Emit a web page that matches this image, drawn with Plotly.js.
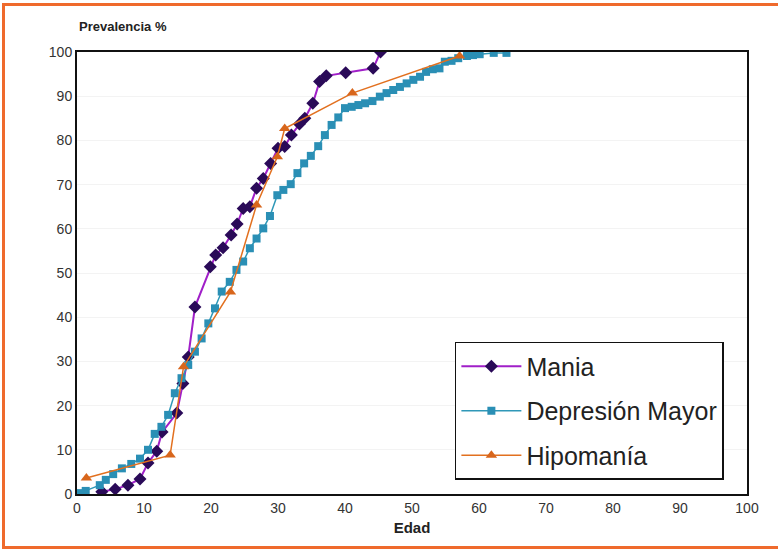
<!DOCTYPE html>
<html>
<head>
<meta charset="utf-8">
<script src="https://cdn.plot.ly/plotly-3.0.1.min.js"></script>
<style>
html,body{margin:0;padding:0;background:#fff;}
#chart{width:778px;height:551px;}
#frame{position:absolute;left:2px;top:3px;width:790px;height:540px;border-left:3px solid #ef6a2c;border-top:3px solid #ef6a2c;border-bottom:3px solid #ef6a2c;pointer-events:none;}
</style>
</head>
<body>
<div id="chart"></div>
<div id="frame"></div>
<script>
// Mania
var maniaAge = [3.7,5.7,7.6,9.4,10.6,11.9,12.7,14.9,15.8,16.6,17.6,19.9,20.7,21.8,23.0,23.9,24.8,25.8,26.8,27.8,28.9,30.0,31.0,32.0,33.2,34.0,35.2,36.2,37.2,40.1,44.2,45.3];
var maniaPct = [0.5,1.1,2.0,3.4,7.0,9.7,14.0,18.3,25.0,31.0,42.3,51.4,54.1,55.7,58.6,61.1,64.6,65.0,69.2,71.4,74.8,78.2,78.6,81.2,83.7,85.0,88.4,93.3,94.6,95.3,96.3,100];
// Depresión Mayor
var depAge = [0.4,1.3,3.4,4.3,5.4,6.7,8.1,9.4,10.6,11.6,12.6,13.6,14.6,15.6,16.6,17.6,18.6,19.6,20.6,21.6,22.8,23.8,24.8,25.8,26.8,27.8,28.8,29.9,30.8,31.9,32.9,33.9,34.9,36.0,37.0,38.0,39.0,40.0,41.0,42.0,43.0,44.1,45.2,46.2,47.2,48.2,49.2,50.2,51.2,52.1,53.1,54.1,54.9,55.9,56.9,58.2,59.1,60.1,62.2,64.1];
var depPct = [0.2,0.7,2.0,3.2,4.5,5.8,6.8,8.0,10.0,13.6,15.2,17.9,22.8,26.2,29.2,32.2,35.2,38.6,42.0,45.8,48.0,50.7,52.6,55.6,57.8,60.1,62.9,67.6,68.8,70.1,72.6,74.8,76.5,78.7,81.2,83.5,85.2,87.3,87.6,88.0,88.4,88.9,89.9,90.7,91.4,92.1,92.9,93.7,94.4,95.5,96.1,96.3,97.8,98.0,98.6,99.1,99.3,99.5,99.8,99.8];
// Hipomanía
var hipoAge = [1.4,13.9,15.9,22.9,26.8,29.9,31.0,41.1,57.1];
var hipoPct = [3.6,8.8,28.8,45.7,65.4,76.3,82.7,90.7,99.1];

var xTicks = [0,10,20,30,40,50,60,70,80,90,100];
var yTicks = [0,10,20,30,40,50,60,70,80,90,100];

var FONT = "Liberation Sans, Arial, sans-serif";

var traces = [
  {x: maniaAge, y: maniaPct, name: "Mania", mode: "lines+markers", legendgroup: "a",
   line: {color: "#a01fc8", width: 2},
   marker: {symbol: "diamond", size: 10, color: "#2a0a58", line: {width: 0}}},
  {x: depAge, y: depPct, name: "Depresión Mayor", mode: "lines+markers", legendgroup: "b",
   line: {color: "#2f98b8", width: 1.5},
   marker: {symbol: "square", size: 8, color: "#2a8fb5", line: {width: 0}}},
  {x: hipoAge, y: hipoPct, name: "Hipomanía", mode: "lines+markers", legendgroup: "c",
   line: {color: "#e2701f", width: 1.5},
   marker: {symbol: "triangle-up", size: 10, color: "#d8661c", line: {width: 0}}}
];

var layout = {
  width: 778, height: 551,
  margin: {l: 77, r: 31, t: 52, b: 57},
  paper_bgcolor: "#ffffff", plot_bgcolor: "#ffffff",
  font: {family: FONT, size: 14, color: "#333"},
  showlegend: true,
  legend: {x: 0.564, y: 0.344, xanchor: "left", yanchor: "top",
    bgcolor: "#ffffff", bordercolor: "#111", borderwidth: 1.5,
    font: {family: FONT, size: 25, color: "#222"},
    tracegroupgap: 9, itemwidth: 60},
  xaxis: {range: [0, 100], tickvals: xTicks, ticktext: xTicks.map(String),
    showgrid: false, zeroline: false, showline: true, linecolor: "#111", linewidth: 2, mirror: true,
    ticks: "", tickfont: {family: FONT, size: 14, color: "#333"},
    title: {text: "<b>Edad</b>", font: {family: FONT, size: 15, color: "#222"}, standoff: 8}},
  yaxis: {range: [0, 100], tickvals: yTicks, ticktext: yTicks.map(String),
    showgrid: true, gridcolor: "#f3f3f3", zeroline: false, showline: true, linecolor: "#111", linewidth: 2, mirror: true,
    ticks: "", tickfont: {family: FONT, size: 14, color: "#333"}},
  annotations: [{text: "<b>Prevalencia %</b>", xref: "paper", yref: "paper", x: 0.0, y: 1.0,
    xanchor: "left", yanchor: "bottom", yshift: 16, showarrow: false,
    font: {family: FONT, size: 13, color: "#222"}}]
};

Plotly.newPlot("chart", traces, layout, {displayModeBar: false, staticPlot: true});
</script>
</body>
</html>
